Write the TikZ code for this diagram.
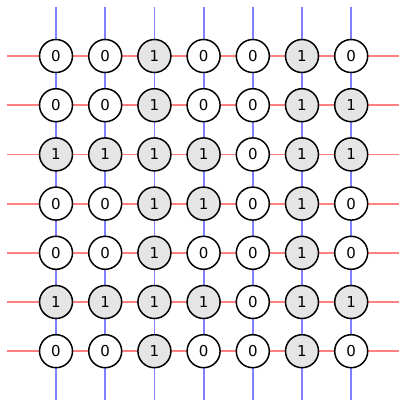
\documentclass[tikz,border=0pt]{standalone}
\usepackage{fontspec}
\setmainfont{DejaVu Sans}
\begin{document}
\begin{tikzpicture}[x=1pt,y=-1pt,
  cell/.style={circle,draw=black,line width=1.5pt,minimum size=33pt,inner sep=0pt,fill=white,font=\fontsize{15}{18}\selectfont},
  one/.style={cell,fill=gray!20},
  vline/.style={blue!50,line width=1.8pt},
  hline/.style={red!50,line width=1.8pt}]
\useasboundingbox (0,0) rectangle (399,401);
\foreach \i in {0,...,6}{
  \coordinate (t\i) at ({56+49.2*\i},7);
  \coordinate (b\i) at ({56+49.2*\i},400);
  \coordinate (l\i) at (7,{56+49.2*\i});
  \coordinate (r\i) at (399,{56+49.2*\i});
  \draw[vline] (t\i) -- (b\i);
  \draw[hline] (l\i) -- (r\i);
}
\foreach \row [count=\r from 0] in {{0,0,1,0,0,1,0},{0,0,1,0,0,1,1},{1,1,1,1,0,1,1},{0,0,1,1,0,1,0},{0,0,1,0,0,1,0},{1,1,1,1,0,1,1},{0,0,1,0,0,1,0}}{
  \foreach \v [count=\c from 0] in \row {
    \ifnum\v=1
      \node[one] (n\r\c) at ({56+49.2*\c},{56+49.2*\r}) {\v};
    \else
      \node[cell] (n\r\c) at ({56+49.2*\c},{56+49.2*\r}) {\v};
    \fi
  }
}
\end{tikzpicture}
\end{document}
